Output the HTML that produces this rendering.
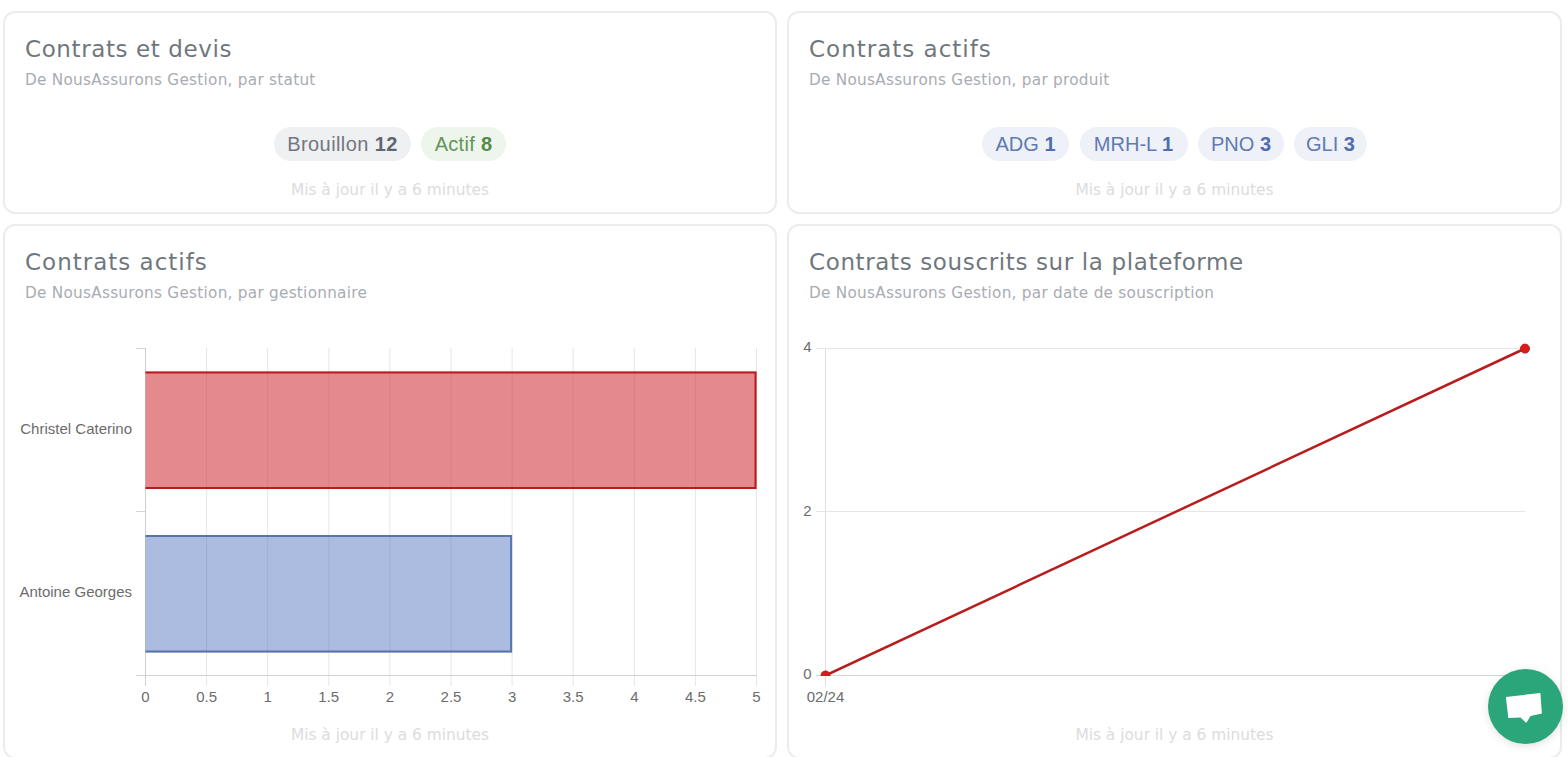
<!DOCTYPE html>
<html lang="fr">
<head>
<meta charset="utf-8">
<title>Tableau de bord</title>
<style>
html,body{margin:0;padding:0;background:#fff;}
body{width:1568px;height:757px;overflow:hidden;position:relative;font-family:"Liberation Sans",Arial,sans-serif;}
.card{position:absolute;box-sizing:border-box;border:2px solid #ececee;border-radius:12px;background:#fff;}
.c1{left:3px;top:11px;width:774px;height:203px;}
.c2{left:787px;top:11px;width:775px;height:203px;}
.c3{left:3px;top:224px;width:774px;height:535px;}
.c4{left:787px;top:224px;width:775px;height:535px;}
.t{position:absolute;left:20px;top:22px;font-family:"DejaVu Sans",sans-serif;font-size:23px;line-height:28px;color:#6f777e;white-space:nowrap;}
.s{position:absolute;left:20px;top:57px;font-family:"DejaVu Sans",sans-serif;font-size:15.25px;letter-spacing:0.27px;line-height:20px;color:#a8acb2;white-space:nowrap;}
.m{position:absolute;left:0;right:0;text-align:center;font-family:"DejaVu Sans",sans-serif;font-size:15.4px;line-height:20px;color:#dcdcdc;white-space:nowrap;}
.c1 .m,.c2 .m{top:167px;}
.c3 .m,.c4 .m{top:499px;}
.p{position:absolute;top:114px;height:34px;line-height:34px;border-radius:17px;font-size:20px;text-align:center;white-space:nowrap;}
.p b{font-weight:bold;}
.pg{background:#eff0f2;color:#72767f;}
.pg b{color:#5f6672;}
.pv{background:#eef5ec;color:#649459;}
.pv b{color:#548a45;}
.pb{background:#eef1f7;color:#607ab2;}
.pb b{color:#4f6eac;}
svg{position:absolute;left:0;top:0;}
.ax{font-family:"Liberation Sans",Arial,sans-serif;font-size:15px;fill:#6c6c6c;}
.chat{position:absolute;left:1488px;top:669px;width:75px;height:75px;border-radius:50%;background:#2ba57a;box-shadow:0 2px 8px rgba(0,0,0,0.12);}
</style>
</head>
<body>
<div class="card c1">
  <div class="t" style="letter-spacing:0.6px">Contrats et devis</div>
  <div class="s">De NousAssurons Gestion, par statut</div>
  <span class="p pg" style="left:269px;width:137px;letter-spacing:0.4px">Brouillon <b>12</b></span><span class="p pv" style="left:416px;width:85px;letter-spacing:0.3px">Actif <b>8</b></span>
  <div class="m">Mis à jour il y a 6 minutes</div>
</div>
<div class="card c2">
  <div class="t" style="letter-spacing:1.0px">Contrats actifs</div>
  <div class="s">De NousAssurons Gestion, par produit</div>
  <span class="p pb" style="left:193px;width:87px">ADG <b>1</b></span><span class="p pb" style="left:290.5px;width:108px">MRH-L <b>1</b></span><span class="p pb" style="left:409px;width:86px">PNO <b>3</b></span><span class="p pb" style="left:505px;width:73px">GLI <b>3</b></span>
  <div class="m">Mis à jour il y a 6 minutes</div>
</div>
<div class="card c3">
  <div class="t" style="letter-spacing:1.0px">Contrats actifs</div>
  <div class="s">De NousAssurons Gestion, par gestionnaire</div>
  <div class="m">Mis à jour il y a 6 minutes</div>
</div>
<div class="card c4">
  <div class="t" style="letter-spacing:0.63px">Contrats souscrits sur la plateforme</div>
  <div class="s">De NousAssurons Gestion, par date de souscription</div>
  <div class="m">Mis à jour il y a 6 minutes</div>
</div>

<svg width="1568" height="757" viewBox="0 0 1568 757">
  <!-- bar chart grid -->
  <g stroke="#e6e6e6" stroke-width="1">
    <line x1="145.5" y1="348" x2="145.5" y2="686"/>
    <line x1="206.6" y1="348" x2="206.6" y2="686"/>
    <line x1="267.7" y1="348" x2="267.7" y2="686"/>
    <line x1="328.8" y1="348" x2="328.8" y2="686"/>
    <line x1="389.9" y1="348" x2="389.9" y2="686"/>
    <line x1="451" y1="348" x2="451" y2="686"/>
    <line x1="512.1" y1="348" x2="512.1" y2="686"/>
    <line x1="573.2" y1="348" x2="573.2" y2="686"/>
    <line x1="634.3" y1="348" x2="634.3" y2="686"/>
    <line x1="695.4" y1="348" x2="695.4" y2="686"/>
    <line x1="756.5" y1="348" x2="756.5" y2="686"/>
    <line x1="136" y1="348.5" x2="145.5" y2="348.5" stroke="#d6d6d6"/>
    <line x1="136" y1="511.5" x2="145.5" y2="511.5" stroke="#d6d6d6"/>
  </g>
  <line x1="145.5" y1="348" x2="145.5" y2="686" stroke="#cfcfcf" stroke-width="1"/>
  <line x1="136" y1="675.5" x2="757" y2="675.5" stroke="#d2d2d2" stroke-width="1"/>
  <!-- bars -->
  <rect x="145.5" y="371.5" width="611" height="117.5" fill="rgba(205,40,45,0.55)"/>
  <path d="M145.5 372.5 H755.5 V488 H145.5" fill="none" stroke="#b71c1f" stroke-width="2"/>
  <rect x="145.5" y="535" width="366.6" height="117.5" fill="rgba(80,115,190,0.48)"/>
  <path d="M145.5 536 H511.1 V651.5 H145.5" fill="none" stroke="#5874a8" stroke-width="2"/>
  <!-- bar labels -->
  <text class="ax" x="132" y="434" text-anchor="end">Christel Caterino</text>
  <text class="ax" x="132" y="597" text-anchor="end">Antoine Georges</text>
  <g class="ax" text-anchor="middle">
    <text x="145.5" y="702">0</text>
    <text x="206.6" y="702">0.5</text>
    <text x="267.7" y="702">1</text>
    <text x="328.8" y="702">1.5</text>
    <text x="389.9" y="702">2</text>
    <text x="451" y="702">2.5</text>
    <text x="512.1" y="702">3</text>
    <text x="573.2" y="702">3.5</text>
    <text x="634.3" y="702">4</text>
    <text x="695.4" y="702">4.5</text>
    <text x="756.5" y="702">5</text>
  </g>

  <!-- line chart -->
  <g stroke="#e6e6e6" stroke-width="1">
    <line x1="816" y1="348.5" x2="1525" y2="348.5"/>
    <line x1="816" y1="511.5" x2="1525" y2="511.5"/>
  </g>
  <line x1="825.5" y1="348" x2="825.5" y2="686" stroke="#e0e0e0" stroke-width="1"/>
  <line x1="816" y1="675.5" x2="1525" y2="675.5" stroke="#d6d6d6" stroke-width="1"/>
  <g class="ax" text-anchor="end">
    <text x="811.5" y="352">4</text>
    <text x="811.5" y="515.5">2</text>
    <text x="811.5" y="679">0</text>
  </g>
  <text class="ax" x="825.5" y="702" text-anchor="middle">02/24</text>
  <defs><clipPath id="ca"><rect x="816" y="340" width="720" height="336"/></clipPath></defs>
  <g clip-path="url(#ca)">
    <line x1="825.5" y1="675.5" x2="1525" y2="348.5" stroke="#b91c1c" stroke-width="2.5"/>
    <circle cx="825.5" cy="675.5" r="4.5" fill="#d81b1b" stroke="#b91c1c" stroke-width="1"/>
  </g>
  <circle cx="1525" cy="348.6" r="4.5" fill="#d81b1b" stroke="#b91c1c" stroke-width="1"/>
</svg>

<div class="chat">
  <svg width="75" height="75" viewBox="0 0 75 75" style="position:absolute;left:0;top:0">
    <path d="M17.9 27.9 L52.4 24 L53.9 44.5 L42.6 46.9 L38.2 54 L32.5 48.4 L20.3 49 Z" fill="#fff"/>
  </svg>
</div>
</body>
</html>
